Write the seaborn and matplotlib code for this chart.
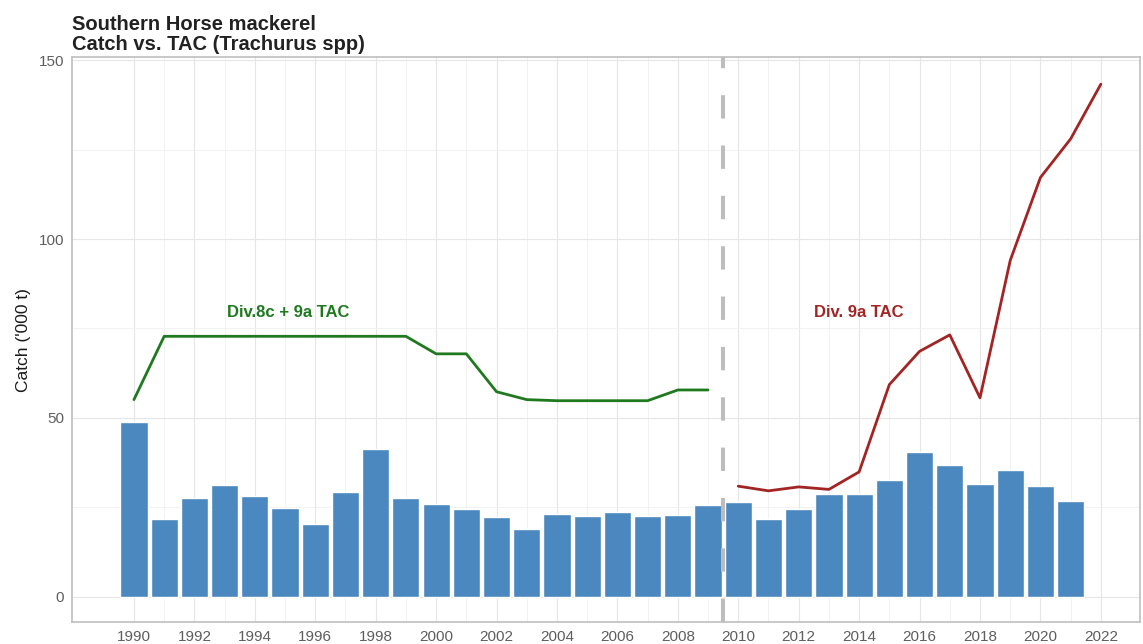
import numpy as np
import pandas as pd
import matplotlib
matplotlib.use("Agg")
import matplotlib.pyplot as plt
import seaborn as sns

# Catches ('000 t)
anos_captura = list(range(1990, 2022))
captura = [48.8, 21.8, 27.5, 31.3, 28.2, 24.9, 20.3, 29.4, 41.2, 27.5,
           25.9, 24.6, 22.3, 18.8, 23.0, 22.5, 23.6, 22.6, 22.9, 25.5,
           26.4, 21.7, 24.6, 28.6, 28.6, 32.5, 40.4, 36.7, 31.6, 35.4,
           31.0, 26.7]

# TAC Div.8c + 9a
anos_tac_8c9a = list(range(1990, 2010))
tac_8c9a = [55.1, 72.8, 72.8, 72.8, 72.8, 72.8, 72.8, 72.8, 72.8, 72.8,
            67.9, 67.9, 57.3, 55.1, 54.8, 54.8, 54.8, 54.8, 57.8, 57.8]

# TAC Div. 9a
anos_tac_9a = list(range(2010, 2023))
tac_9a = [30.9, 29.6, 30.7, 30.0, 34.9, 59.3, 68.6, 73.2, 55.6, 94.0,
          117.2, 128.0, 143.3]

cor_barra = "#4b88bf"
cor_verde = "#1f7a1f"
cor_vermelho = "#a32424"

sns.set_style("whitegrid")
plt.rcParams["font.family"] = ["Liberation Sans", "DejaVu Sans"]

fig = plt.figure(figsize=(11.43, 6.44), dpi=100)
ax = fig.add_axes([0.063, 0.034, 0.9345, 0.877])

df_captura = pd.DataFrame({"ano": anos_captura, "captura": captura})
sns.barplot(data=df_captura, x="ano", y="captura", native_scale=True,
            width=0.9, color=cor_barra, saturation=1, ax=ax, zorder=2)

df_8c9a = pd.DataFrame({"ano": anos_tac_8c9a, "tac": tac_8c9a})
df_9a = pd.DataFrame({"ano": anos_tac_9a, "tac": tac_9a})
sns.lineplot(data=df_8c9a, x="ano", y="tac", color=cor_verde, linewidth=2.0,
             ax=ax, zorder=3)
sns.lineplot(data=df_9a, x="ano", y="tac", color=cor_vermelho, linewidth=2.0,
             ax=ax, zorder=3)

# divisória entre os dois regimes de TAC
ax.axvline(2009.5, color="#bdbdbd", linewidth=2.9, linestyle=(0, (5.8, 6.7)),
           zorder=4)

ax.text(1995.1, 79.5, "Div.8c + 9a TAC", color=cor_verde, fontsize=12,
        fontweight="bold", ha="center", va="center")
ax.text(2014.0, 79.5, "Div. 9a TAC", color=cor_vermelho, fontsize=12,
        fontweight="bold", ha="center", va="center")

ax.set_xlim(1987.95, 2023.3)
ax.set_ylim(-7.1, 150.8)
ax.set_xticks(range(1990, 2023, 2))
ax.set_xticklabels([str(a) for a in range(1990, 2023, 2)])
ax.set_xticks(range(1991, 2023, 2), minor=True)
ax.set_yticks([0, 50, 100, 150])
ax.set_yticks([25, 75, 125], minor=True)

ax.grid(True, which="major", color="#e6e6e6", linewidth=0.8)
ax.grid(True, which="minor", color="#f0f0f0", linewidth=0.6)
ax.set_axisbelow(True)

for lado in ["top", "bottom", "left", "right"]:
    ax.spines[lado].set_color("#bfbfbf")
    ax.spines[lado].set_linewidth(1.2)

ax.tick_params(axis="both", which="major", length=3, width=0.8,
               color="#9a9a9a", labelcolor="#5e5e5e", labelsize=11, pad=2.5)
ax.tick_params(axis="both", which="minor", length=0)

ax.set_xlabel("")
ax.set_ylabel("Catch ('000 t)", fontsize=12.5, color="#1a1a1a", labelpad=6)
ax.set_title("Southern Horse mackerel\nCatch vs. TAC (Trachurus spp)",
             loc="left", fontsize=14.5, fontweight="bold", color="#222222",
             pad=5, linespacing=1.08)

plt.savefig("out.png", dpi=100)
